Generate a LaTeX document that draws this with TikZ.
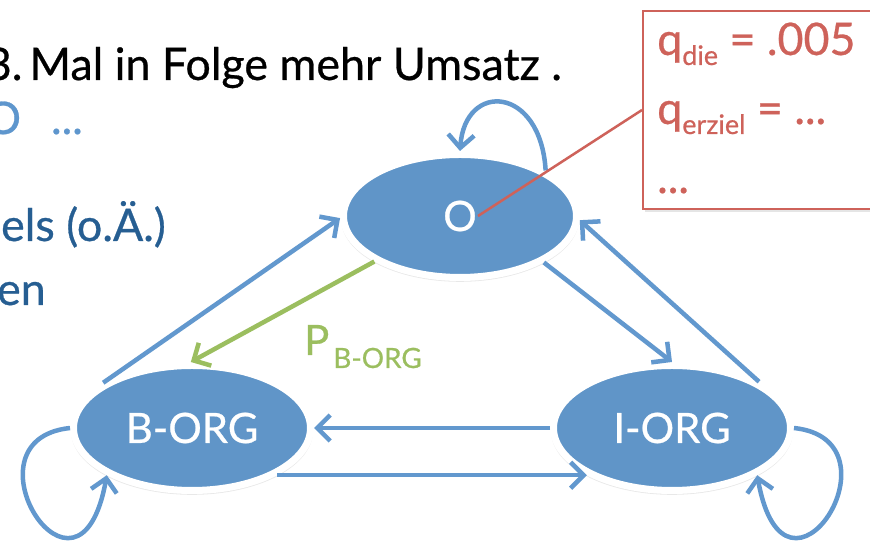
\documentclass[tikz,border=0pt]{standalone}
\usepackage{fontspec}
\setmainfont{Lato}[FakeBold=0.6]
\usetikzlibrary{
    arrows.meta,
    positioning,
    shapes.geometric,
    shadows
}
\definecolor{stateblue}{RGB}{96,149,200}
\definecolor{linkblue}{RGB}{98,152,206}
\definecolor{bulletblue}{RGB}{94,150,205}
\definecolor{textblue}{RGB}{38,94,146}
\definecolor{probgreen}{RGB}{155,190,95}
\definecolor{notered}{RGB}{206,98,90}
\newcommand{\slidefont}{\fontsize{45}{52}\selectfont}
\newcommand{\statefont}{\fontsize{42}{50}\selectfont}
\newcommand{\lowsub}[1]{\raisebox{-10bp}{\fontsize{27}{30}\selectfont #1}}
\tikzset{
    state/.style={
        ellipse, fill=stateblue, draw=white, line width=7bp, inner sep=0pt,
        text=white, font=\statefont,
        drop shadow={shadow xshift=0bp, shadow yshift=-3bp, shadow scale=1.02, opacity=0.18}
    },
    trans/.style={draw=linkblue, line width=4.5bp, -{Straight Barb[length=13bp, width=26bp]}},
    slidetext/.style={inner sep=0pt, font=\slidefont},
    notebox/.style={
        rectangle, draw=notered, line width=2bp, fill=white,
        drop shadow={shadow xshift=2bp, shadow yshift=-3bp, opacity=0.2}
    },
    notetext/.style={inner sep=0pt, text=notered, font=\slidefont, anchor=base west}
}

\begin{document}
\begin{tikzpicture}[x=1bp, y=1bp]
    \useasboundingbox (0,0) rectangle (870,541);
    \fill[white] (0,0) rectangle (870,541);
    \clip (0,0) rectangle (870,541);

    % slide text behind the chain
    \node[slidetext, anchor=base east] (headline) at (562,461) {3.\kern7bp Mal in Folge mehr Umsatz .};
    \node[slidetext, anchor=base east, text=bulletblue] (bullet) at (83,407) {O\hspace{30bp}...};
    \node[slidetext, anchor=base east, text=textblue] (lineone) at (166,300) {els (o.Ä.)};
    \node[slidetext, anchor=base east, text=textblue] (linetwo) at (46,236) {en};

    % states
    \node[state, minimum width=233bp, minimum height=123bp] (O) at (460,325) {O};
    \node[state, minimum width=237bp, minimum height=125bp] (B-ORG) at (192,113) {B-ORG};
    \node[state, minimum width=237bp, minimum height=125bp] (I-ORG) at (672,113) {I-ORG};

    % transitions
    \draw[trans] (B-ORG.153) -- (O.181);
    \draw[trans, draw=probgreen] (O.208) -- (B-ORG.91);
    \draw[trans] (O.-29) -- (I-ORG.90);
    \draw[trans] (I-ORG.28) -- (O.-2);
    \draw[trans] (I-ORG.west) -- (B-ORG.east);
    \draw[trans] (B-ORG.-29) -- (I-ORG.209);
    \draw[trans] (O.28) .. controls +(-5,85) and +(5,70) .. (O.north);
    \draw[trans] (B-ORG.west) .. controls +(-113,-12) and +(-28,-156) .. (B-ORG.209);
    \draw[trans] (I-ORG.east) .. controls +(113,-12) and +(28,-156) .. (I-ORG.-29);

    \node[inner sep=0pt, anchor=base west, text=probgreen, font=\statefont] (pborg) at (304,186)
        {P\hspace{4bp}{\raisebox{-13bp}{\fontsize{28}{32}\selectfont B-ORG}}};

    % parameters of O
    \node[notebox, anchor=north west, minimum width=262bp, minimum height=198bp] (qbox) at (642,531) {};
    \node[notetext] (qdie) at ([xshift=15bp, yshift=-45bp]qbox.north west) {q\lowsub{die} = .005};
    \node[notetext] (qerziel) at ([xshift=15bp, yshift=-114bp]qbox.north west) {q\lowsub{erziel} = ...};
    \node[notetext] (qmore) at ([xshift=15bp, yshift=-183bp]qbox.north west) {...};
    \coordinate (pin) at ([xshift=18bp]O.center);
    \draw[notered, line width=2.5bp] (pin) -- (qbox.west);
\end{tikzpicture}
\end{document}
